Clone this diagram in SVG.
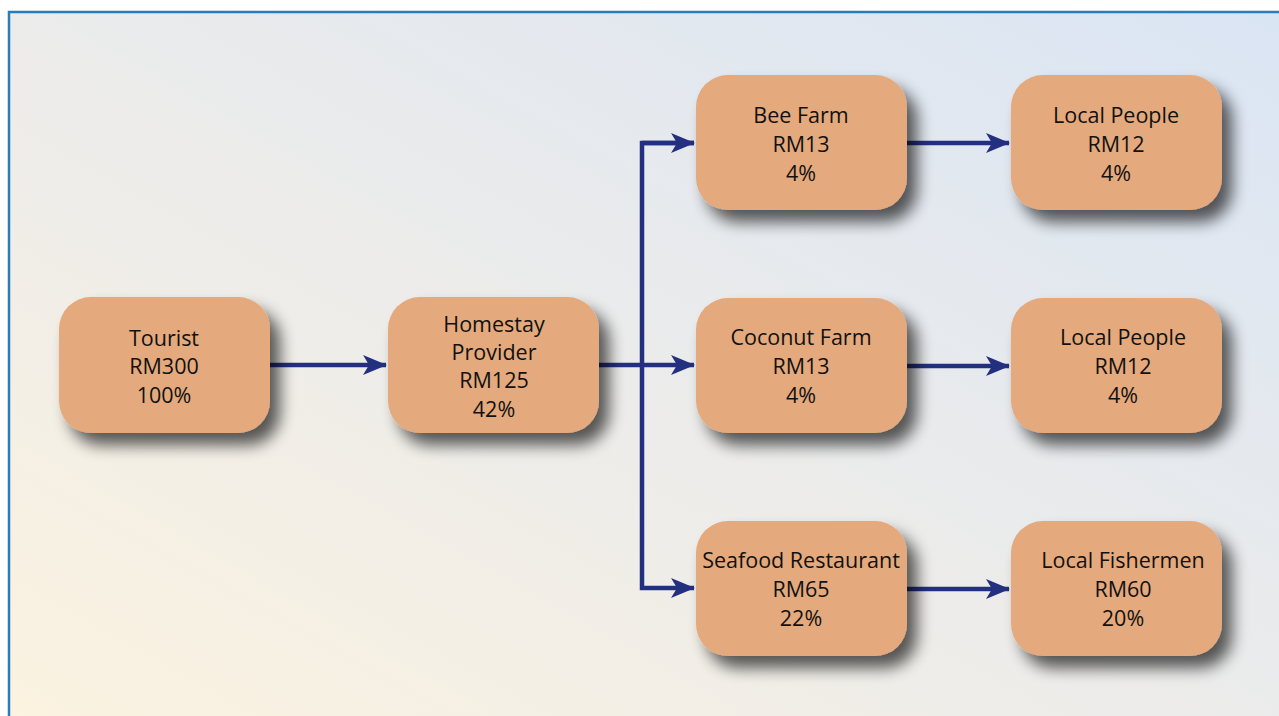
<svg xmlns="http://www.w3.org/2000/svg" width="1279" height="716" viewBox="0 0 1279 716">
<defs>
<linearGradient id="bg" x1="0" y1="1" x2="1" y2="0">
<stop offset="0" stop-color="#fcf3e0"/>
<stop offset="0.45" stop-color="#edecea"/>
<stop offset="1" stop-color="#dae5f4"/>
</linearGradient>
<filter id="sh" x="-20%" y="-20%" width="150%" height="160%">
<feGaussianBlur in="SourceAlpha" stdDeviation="8"/>
<feOffset dx="10" dy="12" result="b"/>
<feComponentTransfer><feFuncA type="linear" slope="0.65"/></feComponentTransfer>
<feMerge><feMergeNode/><feMergeNode in="SourceGraphic"/></feMerge>
</filter>
<marker id="ah" viewBox="0 0 24 20" markerWidth="24" markerHeight="20" refX="23" refY="10" orient="auto" markerUnits="userSpaceOnUse">
<path d="M0,0 L24,10 L0,20 L6,10 Z" fill="#23307f"/>
</marker>
</defs>
<style>
.box{fill:#e4a97b;filter:url(#sh)}
.t{font-family:"Open Sans","Noto Sans",sans-serif;font-size:21.5px;fill:#111111;text-anchor:middle}
.c{fill:none;stroke:#23307f;stroke-width:4.5}
</style>
<rect x="0" y="0" width="1279" height="716" fill="#ffffff"/>
<rect x="9" y="12" width="1280" height="720" fill="url(#bg)" stroke="#2a7db9" stroke-width="2.5"/>
<g id="connectors">
<line class="c" x1="270" y1="365" x2="386" y2="365" marker-end="url(#ah)"/>
<line class="c" x1="599" y1="365" x2="694" y2="365" marker-end="url(#ah)"/>
<polyline class="c" points="694,143 642,143 642,588 694,588" marker-end="url(#ah)"/>
<line class="c" x1="642" y1="143" x2="694" y2="143" marker-end="url(#ah)"/>
<line class="c" x1="907" y1="143" x2="1009" y2="143" marker-end="url(#ah)"/>
<line class="c" x1="907" y1="366" x2="1009" y2="366" marker-end="url(#ah)"/>
<line class="c" x1="907" y1="589" x2="1009" y2="589" marker-end="url(#ah)"/>
</g>
<g id="tourist"><rect class="box" x="59" y="297" width="211" height="136" rx="32"/>
<text class="t" x="164" y="346">Tourist</text><text class="t" x="164" y="374">RM300</text><text class="t" x="164" y="403">100%</text></g>
<g id="homestay"><rect class="box" x="388" y="297" width="211" height="136" rx="32"/>
<text class="t" x="494" y="332">Homestay</text><text class="t" x="494" y="360">Provider</text><text class="t" x="494" y="388">RM125</text><text class="t" x="494" y="417">42%</text></g>
<g id="beefarm"><rect class="box" x="696" y="75" width="211" height="135" rx="32"/>
<text class="t" x="801" y="123">Bee Farm</text><text class="t" x="801" y="152">RM13</text><text class="t" x="801" y="181">4%</text></g>
<g id="localpeople1"><rect class="box" x="1011" y="75" width="211" height="135" rx="32"/>
<text class="t" x="1116" y="123">Local People</text><text class="t" x="1116" y="152">RM12</text><text class="t" x="1116" y="181">4%</text></g>
<g id="coconut"><rect class="box" x="696" y="298" width="211" height="135" rx="32"/>
<text class="t" x="801" y="345">Coconut Farm</text><text class="t" x="801" y="374">RM13</text><text class="t" x="801" y="403">4%</text></g>
<g id="localpeople2"><rect class="box" x="1011" y="298" width="211" height="135" rx="32"/>
<text class="t" x="1123" y="345">Local People</text><text class="t" x="1123" y="374">RM12</text><text class="t" x="1123" y="403">4%</text></g>
<g id="seafood"><rect class="box" x="696" y="521" width="211" height="135" rx="32"/>
<text class="t" x="801" y="568">Seafood Restaurant</text><text class="t" x="801" y="597">RM65</text><text class="t" x="801" y="626">22%</text></g>
<g id="fishermen"><rect class="box" x="1011" y="521" width="211" height="135" rx="32"/>
<text class="t" x="1123" y="568">Local Fishermen</text><text class="t" x="1123" y="597">RM60</text><text class="t" x="1123" y="626">20%</text></g>
</svg>
